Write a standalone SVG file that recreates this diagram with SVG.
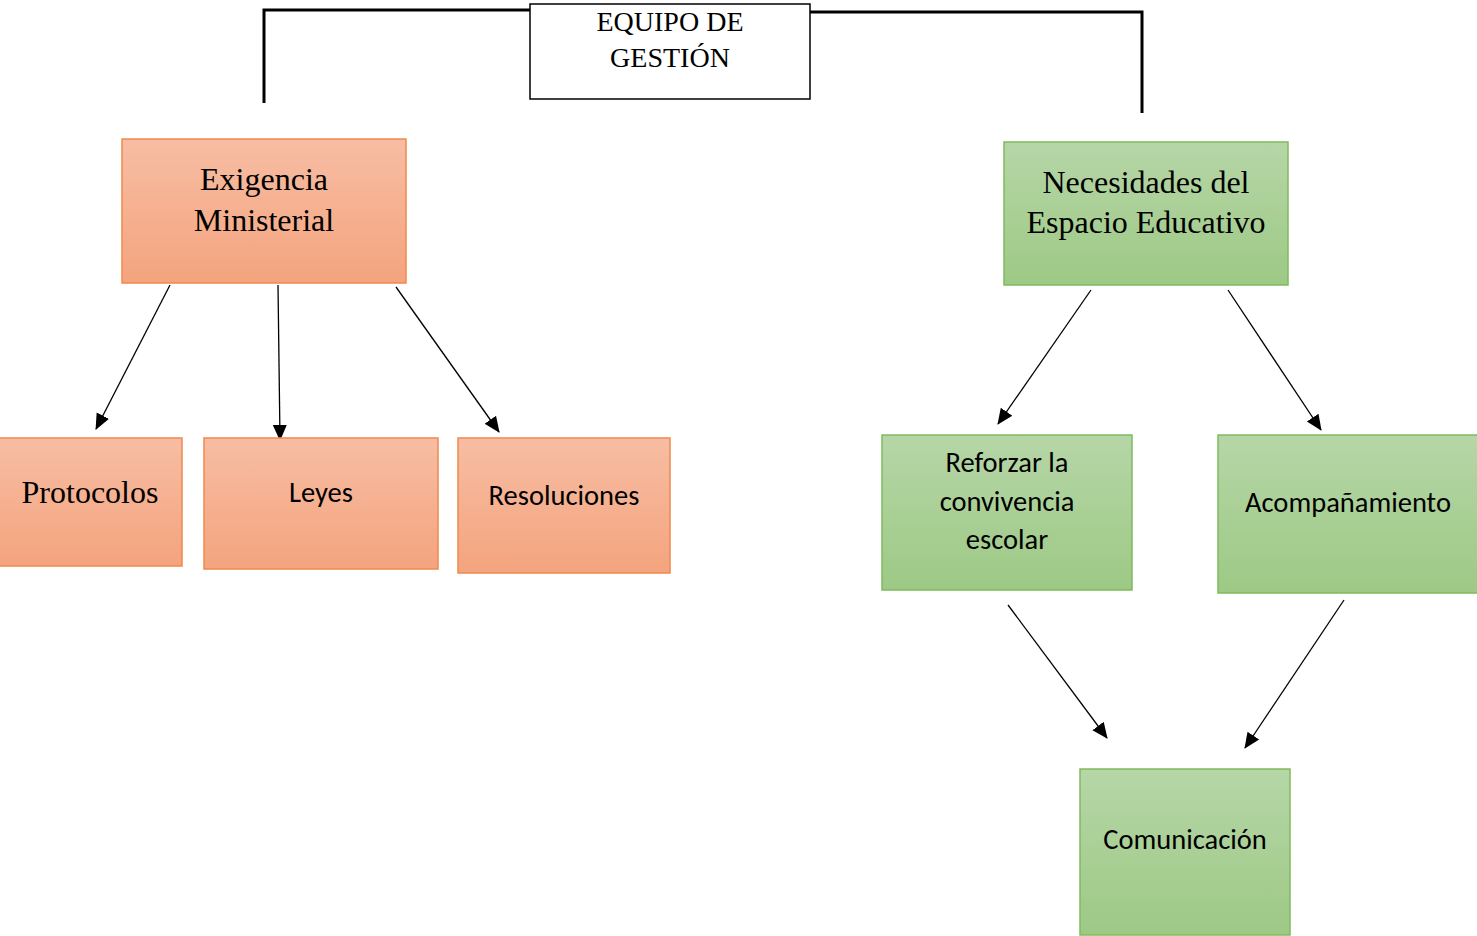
<svg xmlns="http://www.w3.org/2000/svg" width="1477" height="936" viewBox="0 0 1477 936">
<style>
.serif{font-family:"Liberation Serif","Times New Roman",serif;fill:#000;text-anchor:middle}
.sans{font-family:Carlito,Lato,"Open Sans",sans-serif;fill:#000;text-anchor:middle}
.org{fill:url(#gOrg);stroke:#f0894e;stroke-width:1.5}
.grn{fill:url(#gGrn);stroke:#7fba5e;stroke-width:1.5}
.conn{stroke:#000;stroke-width:1.3;fill:none;marker-end:url(#arr)}
.brk{stroke:#000;stroke-width:3;fill:none}
</style>
<defs>
<linearGradient id="gOrg" x1="0" y1="0" x2="0" y2="1"><stop offset="0" stop-color="#f7bda3"/><stop offset="1" stop-color="#f4a47e"/></linearGradient>
<linearGradient id="gGrn" x1="0" y1="0" x2="0" y2="1"><stop offset="0" stop-color="#b6d6a7"/><stop offset="1" stop-color="#9dc985"/></linearGradient>
<marker id="arr" markerUnits="userSpaceOnUse" markerWidth="16" markerHeight="16" viewBox="0 0 16 16" refX="15" refY="8" orient="auto"><path d="M0,1 L16,8 L0,15 Z" fill="#000"/></marker>
</defs>
<g id="connectors">
<path class="brk" d="M264,103 V10 H530"/>
<path class="brk" d="M810,12 H1142 V113"/>
<line class="conn" x1="170" y1="285" x2="96" y2="429"/>
<line class="conn" x1="278" y1="285" x2="280" y2="440"/>
<line class="conn" x1="396" y1="287" x2="499" y2="432"/>
<line class="conn" x1="1091" y1="290" x2="998" y2="424"/>
<line class="conn" x1="1228" y1="290" x2="1321" y2="430"/>
<line class="conn" x1="1008" y1="605" x2="1107" y2="738"/>
<line class="conn" x1="1344" y1="600" x2="1245" y2="748"/>
</g>
<g id="equipo">
<rect x="530" y="4" width="280" height="95" fill="#fff" stroke="#000" stroke-width="1.5"/>
<text class="serif" x="670" y="31" font-size="28">EQUIPO DE</text>
<text class="serif" x="670" y="67" font-size="28">GESTIÓN</text>
</g>
<g id="exigencia">
<rect class="org" x="122" y="139" width="284" height="144"/>
<text class="serif" x="264" y="190" font-size="32">Exigencia</text>
<text class="serif" x="264" y="231" font-size="32">Ministerial</text>
</g>
<g id="protocolos">
<rect class="org" x="-2" y="438" width="184" height="128"/>
<text class="serif" x="90" y="503" font-size="32">Protocolos</text>
</g>
<g id="leyes">
<rect class="org" x="204" y="438" width="234" height="131"/>
<text class="sans" x="321" y="502" font-size="28.5">Leyes</text>
</g>
<g id="resoluciones">
<rect class="org" x="458" y="438" width="212" height="135"/>
<text class="sans" x="564" y="505" font-size="28.5">Resoluciones</text>
</g>
<g id="necesidades">
<rect class="grn" x="1004" y="142" width="284" height="143"/>
<text class="serif" x="1146" y="193" font-size="32">Necesidades del</text>
<text class="serif" x="1146" y="233" font-size="32">Espacio Educativo</text>
</g>
<g id="reforzar">
<rect class="grn" x="882" y="435" width="250" height="155"/>
<text class="sans" x="1007" y="472" font-size="28.5">Reforzar la</text>
<text class="sans" x="1007" y="511" font-size="28.5">convivencia</text>
<text class="sans" x="1007" y="549" font-size="28.5">escolar</text>
</g>
<g id="acompanamiento">
<rect class="grn" x="1218" y="435" width="262" height="158"/>
<text class="sans" x="1348" y="512" font-size="28.5">Acompañamiento</text>
</g>
<g id="comunicacion">
<rect class="grn" x="1080" y="769" width="210" height="166"/>
<text class="sans" x="1185" y="849" font-size="28.5">Comunicación</text>
</g>
</svg>
